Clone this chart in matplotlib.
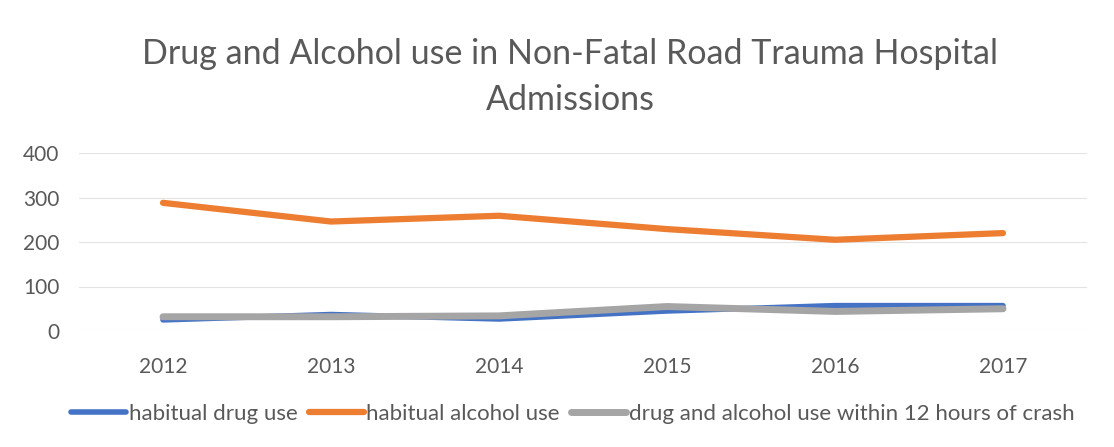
import matplotlib.pyplot as plt

# data
years = ["2012", "2013", "2014", "2015", "2016", "2017"]
drug_use = [25, 37, 27, 45, 57, 57]
alcohol_use = [288, 246, 259, 229, 205, 220]
within_12h = [32, 32, 34, 55, 44, 50]

labels = ["habitual drug use", "habitual alcohol use",
          "drug and alcohol use within 12 hours of crash"]
colors = ["#4472C4", "#ED7D31", "#A5A5A5"]
text_col = "#595959"

plt.rcParams['font.family'] = ['Lato', 'DejaVu Sans']

fig = plt.figure(figsize=(11.14, 4.47), dpi=100)
ax = fig.add_axes([79 / 1114, 1 - 331 / 447, (1087 - 79) / 1114, (331 - 153) / 447])

x = list(range(len(years)))
ax.plot(x, drug_use, color=colors[0], lw=4, label=labels[0], solid_capstyle="round")
ax.plot(x, alcohol_use, color=colors[1], lw=4.5, label=labels[1], solid_capstyle="round")
ax.plot(x, within_12h, color=colors[2], lw=5, label=labels[2], solid_capstyle="round")

ax.set_xlim(-0.5, len(years) - 0.5)
ax.set_ylim(0, 400)
ax.set_yticks([0, 100, 200, 300, 400])
ax.set_xticks(x)
ax.set_xticklabels(years)
ax.grid(axis="y", color="#E3E3E3", lw=0.8)
ax.set_axisbelow(True)
for s in ax.spines.values():
    s.set_visible(False)
ax.tick_params(length=0, labelsize=15, colors=text_col)
ax.tick_params(axis="x", pad=19)
ax.tick_params(axis="y", pad=14)

fig.text(0.512, 1 - 77 / 447, "Drug and Alcohol use in Non-Fatal Road Trauma Hospital\nAdmissions",
         ha="center", va="center", fontsize=24.5, color=text_col, linespacing=1.5)

leg = fig.legend(loc="center", bbox_to_anchor=(0.514, 1 - 414 / 447), ncol=3,
                 frameon=False, fontsize=16, handlelength=2.5, handletextpad=0.1,
                 columnspacing=0.5)
for t in leg.get_texts():
    t.set_color(text_col)

fig.savefig("out.png", dpi=100)
